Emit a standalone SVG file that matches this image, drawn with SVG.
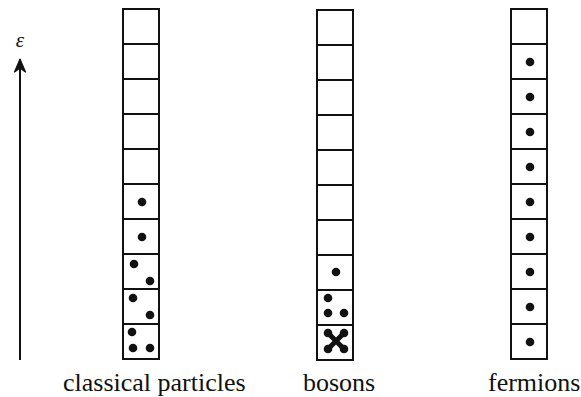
<svg xmlns="http://www.w3.org/2000/svg" width="581" height="397" viewBox="0 0 581 397">
<style>
.cell{fill:#fff;stroke:#111;stroke-width:2}
.dot{fill:#111}
.lbl{font-family:'Liberation Serif','Times New Roman','DejaVu Serif',serif;font-size:26px;fill:#111}
</style>
<rect width="581" height="397" fill="#fff"/>
<g id="axis">
<line x1="20" y1="360" x2="20" y2="64" stroke="#111" stroke-width="2"/>
<path d="M20,59 L14.5,72 L20,68 L25.5,72 Z" fill="#111" stroke="#111" stroke-width="1.2" stroke-linejoin="round"/>
<text x="20" y="47" text-anchor="middle" font-family="'Liberation Serif','DejaVu Serif',serif" font-style="italic" font-size="21" fill="#111">ε</text>
</g>
<g id="classical">
<rect class="cell" x="123" y="9" width="36" height="35"/>
<rect class="cell" x="123" y="44" width="36" height="35"/>
<rect class="cell" x="123" y="79" width="36" height="35"/>
<rect class="cell" x="123" y="114" width="36" height="35"/>
<rect class="cell" x="123" y="149" width="36" height="35"/>
<rect class="cell" x="123" y="184" width="36" height="35"/>
<rect class="cell" x="123" y="219" width="36" height="35"/>
<rect class="cell" x="123" y="254" width="36" height="35"/>
<rect class="cell" x="123" y="289" width="36" height="35"/>
<rect class="cell" x="123" y="324" width="36" height="35"/>
<circle class="dot" cx="142" cy="202" r="4.3"/>
<circle class="dot" cx="142" cy="237" r="4.3"/>
<circle class="dot" cx="134" cy="264" r="4.3"/>
<circle class="dot" cx="150" cy="281" r="4.3"/>
<circle class="dot" cx="133" cy="298" r="4.3"/>
<circle class="dot" cx="150" cy="315" r="4.3"/>
<circle class="dot" cx="132" cy="332" r="4.3"/>
<circle class="dot" cx="133" cy="348" r="4.3"/>
<circle class="dot" cx="150" cy="348" r="4.3"/>
<text class="lbl" x="63" y="391">classical particles</text>
</g>
<g id="bosons">
<rect class="cell" x="317" y="10" width="36" height="35"/>
<rect class="cell" x="317" y="45" width="36" height="35"/>
<rect class="cell" x="317" y="80" width="36" height="35"/>
<rect class="cell" x="317" y="115" width="36" height="35"/>
<rect class="cell" x="317" y="150" width="36" height="35"/>
<rect class="cell" x="317" y="185" width="36" height="35"/>
<rect class="cell" x="317" y="220" width="36" height="35"/>
<rect class="cell" x="317" y="255" width="36" height="35"/>
<rect class="cell" x="317" y="290" width="36" height="35"/>
<rect class="cell" x="317" y="325" width="36" height="35"/>
<circle class="dot" cx="336" cy="272" r="4.3"/>
<circle class="dot" cx="328" cy="298" r="4.3"/>
<circle class="dot" cx="328" cy="313" r="4.3"/>
<circle class="dot" cx="344" cy="313" r="4.3"/>
<path d="M328,333 L344,349 M344,333 L328,349" stroke="#111" stroke-width="5" stroke-linecap="round"/>
<circle class="dot" cx="328" cy="333" r="4.3"/>
<circle class="dot" cx="344" cy="333" r="4.3"/>
<circle class="dot" cx="328" cy="349" r="4.3"/>
<circle class="dot" cx="344" cy="349" r="4.3"/>
<text class="lbl" x="303" y="391">bosons</text>
</g>
<g id="fermions">
<rect class="cell" x="511" y="9" width="36" height="35"/>
<rect class="cell" x="511" y="44" width="36" height="35"/>
<rect class="cell" x="511" y="79" width="36" height="35"/>
<rect class="cell" x="511" y="114" width="36" height="35"/>
<rect class="cell" x="511" y="149" width="36" height="35"/>
<rect class="cell" x="511" y="184" width="36" height="35"/>
<rect class="cell" x="511" y="219" width="36" height="35"/>
<rect class="cell" x="511" y="254" width="36" height="35"/>
<rect class="cell" x="511" y="289" width="36" height="35"/>
<rect class="cell" x="511" y="324" width="36" height="35"/>
<circle class="dot" cx="530" cy="62" r="4.3"/>
<circle class="dot" cx="530" cy="97" r="4.3"/>
<circle class="dot" cx="530" cy="132" r="4.3"/>
<circle class="dot" cx="530" cy="167" r="4.3"/>
<circle class="dot" cx="530" cy="202" r="4.3"/>
<circle class="dot" cx="530" cy="237" r="4.3"/>
<circle class="dot" cx="530" cy="272" r="4.3"/>
<circle class="dot" cx="530" cy="307" r="4.3"/>
<circle class="dot" cx="530" cy="342" r="4.3"/>
<text class="lbl" x="488" y="391">fermions</text>
</g>
<g id="connectors"></g>
</svg>
